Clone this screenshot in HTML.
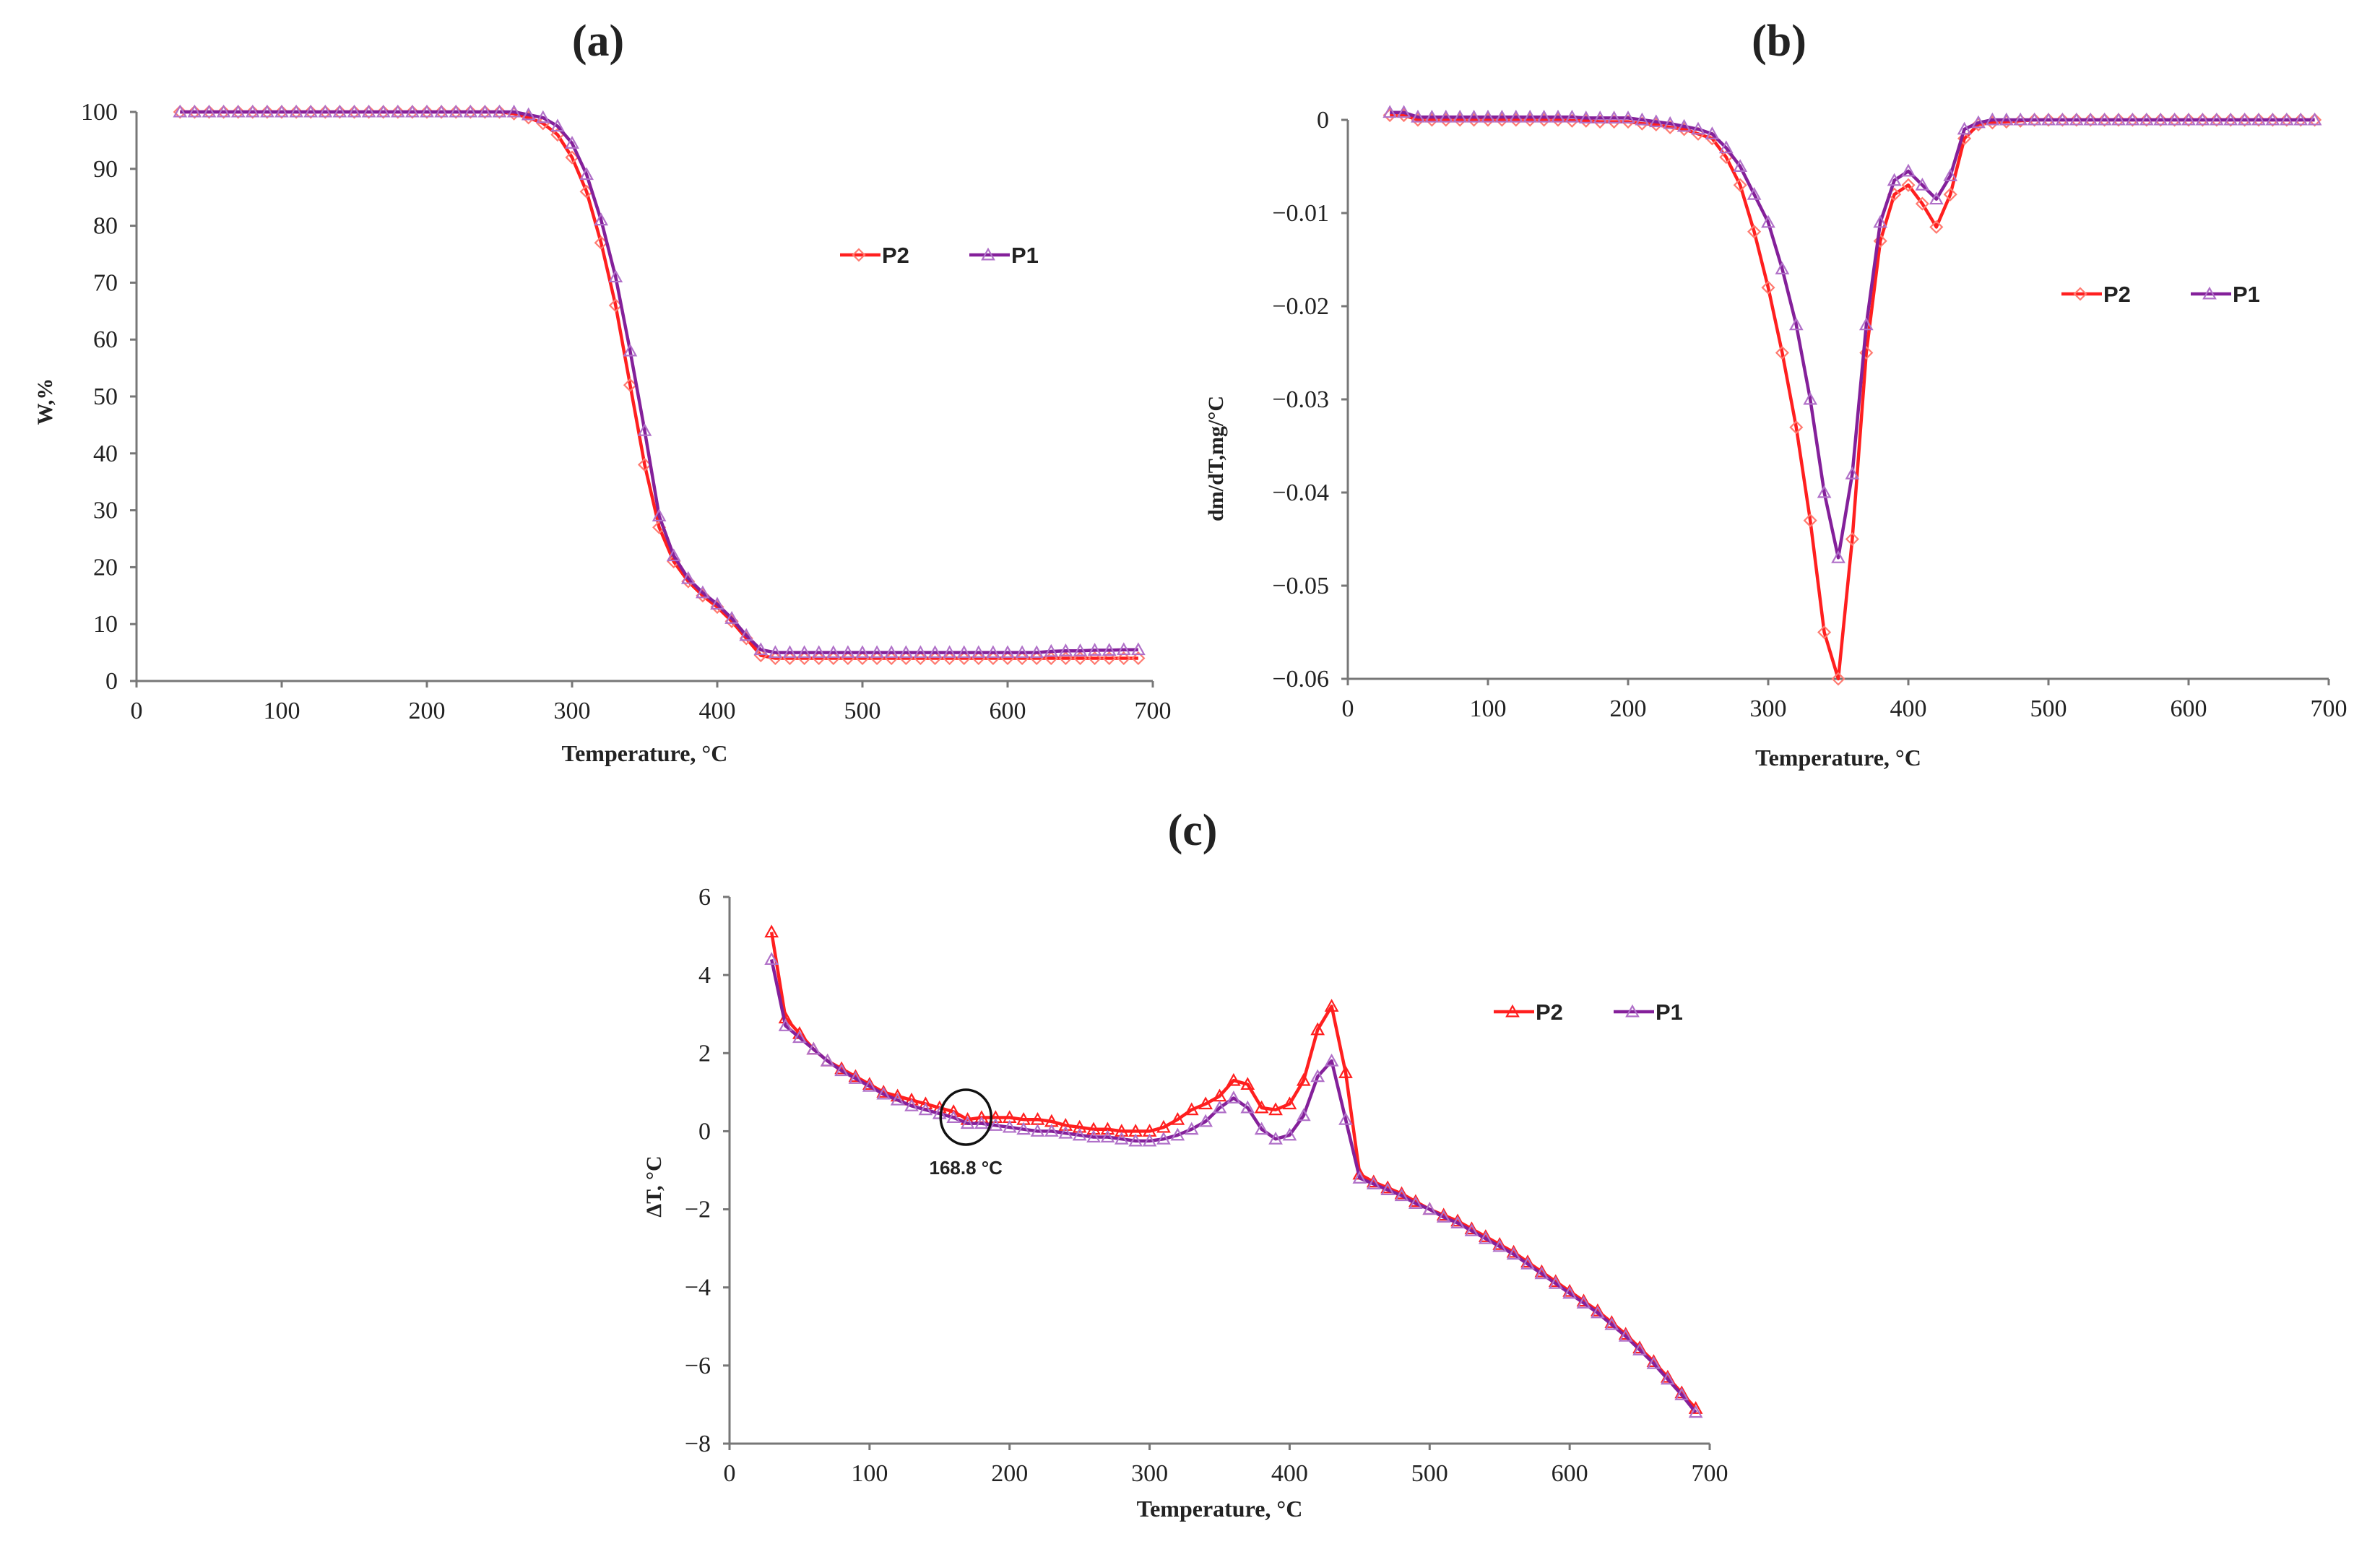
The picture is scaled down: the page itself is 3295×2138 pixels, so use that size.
<!DOCTYPE html>
<html><head><meta charset="utf-8"><style>
html,body{margin:0;padding:0;background:#fff;}
svg{display:block;}
text{font-family:"Liberation Serif",serif;fill:#222;}
</style></head><body>
<svg id="fig" width="3295" height="2138" viewBox="0 0 3295 2138" xmlns="http://www.w3.org/2000/svg"></svg>
<script>
const temps=[30,40,50,60,70,80,90,100,110,120,130,140,150,160,170,180,190,200,210,220,230,240,250,260,270,280,290,300,310,320,330,340,350,360,370,380,390,400,410,420,430,440,450,460,470,480,490,500,510,520,530,540,550,560,570,580,590,600,610,620,630,640,650,660,670,680,690];
const tgaP2=[100,100,100,100,100,100,100,100,100,100,100,100,100,100,100,100,100,100,100,100,100,100,100,99.7,99,98,96,92,86,77,66,52,38,27,21,17.5,15,13,10.5,7.5,4.5,4,4,4,4,4,4,4,4,4,4,4,4,4,4,4,4,4,4,4,4,4,4,4,4,4,4];
const tgaP1=[100,100,100,100,100,100,100,100,100,100,100,100,100,100,100,100,100,100,100,100,100,100,100,100,99.5,99,97.5,94.5,89,81,71,58,44,29,22,18,15.5,13.5,11,8,5.5,5,5,5,5,5,5,5,5,5,5,5,5,5,5,5,5,5,5,5,5.2,5.3,5.3,5.4,5.4,5.5,5.5];
const dtgP2=[0.0005,0.0005,0,0,0,0,0,0,0,0,0,0,0,-0.0001,-0.0001,-0.0002,-0.0002,-0.0002,-0.0004,-0.0005,-0.0008,-0.001,-0.0015,-0.002,-0.004,-0.007,-0.012,-0.018,-0.025,-0.033,-0.043,-0.055,-0.06,-0.045,-0.025,-0.013,-0.008,-0.007,-0.009,-0.0115,-0.008,-0.002,-0.0005,-0.0003,-0.0002,-0.0001,0,0,0,0,0,0,0,0,0,0,0,0,0,0,0,0,0,0,0,0,0];
const dtgP1=[0.0008,0.0008,0.0003,0.0003,0.0003,0.0003,0.0003,0.0003,0.0003,0.0003,0.0003,0.0003,0.0003,0.0003,0.0002,0.0002,0.0002,0.0002,0,-0.0002,-0.0004,-0.0007,-0.001,-0.0015,-0.003,-0.005,-0.008,-0.011,-0.016,-0.022,-0.03,-0.04,-0.047,-0.038,-0.022,-0.011,-0.0065,-0.0055,-0.007,-0.0085,-0.006,-0.001,-0.0003,0,0,0,0,0,0,0,0,0,0,0,0,0,0,0,0,0,0,0,0,0,0,0,0];
const dtaP2=[5.1,2.9,2.5,2.1,1.8,1.6,1.4,1.2,1.0,0.9,0.8,0.7,0.6,0.5,0.3,0.35,0.35,0.35,0.3,0.3,0.25,0.15,0.1,0.05,0.05,0,0,0,0.1,0.3,0.55,0.7,0.9,1.3,1.2,0.6,0.55,0.7,1.3,2.6,3.2,1.5,-1.1,-1.3,-1.45,-1.6,-1.8,-2.0,-2.15,-2.3,-2.5,-2.7,-2.9,-3.1,-3.35,-3.6,-3.85,-4.1,-4.35,-4.6,-4.9,-5.2,-5.55,-5.9,-6.3,-6.7,-7.1];
const dtaP1=[4.4,2.7,2.4,2.1,1.8,1.55,1.35,1.15,0.95,0.8,0.65,0.55,0.45,0.35,0.2,0.2,0.15,0.1,0.05,0,0,-0.05,-0.1,-0.15,-0.15,-0.2,-0.25,-0.25,-0.2,-0.1,0.05,0.25,0.6,0.85,0.6,0.05,-0.2,-0.1,0.4,1.4,1.8,0.3,-1.2,-1.35,-1.5,-1.65,-1.85,-2.0,-2.2,-2.35,-2.55,-2.75,-2.95,-3.15,-3.4,-3.65,-3.9,-4.15,-4.4,-4.65,-4.95,-5.25,-5.6,-5.95,-6.35,-6.75,-7.2];
const xTicks=[0,100,200,300,400,500,600,700];
const aTicks=[0,10,20,30,40,50,60,70,80,90,100];
const bTicks=[0,-0.01,-0.02,-0.03,-0.04,-0.05,-0.06];
const bTickLabels=["0","\u22120.01","\u22120.02","\u22120.03","\u22120.04","\u22120.05","\u22120.06"];
const cTicks=[6,4,2,0,-2,-4,-6,-8];
const cTickLabels=["6","4","2","0","\u22122","\u22124","\u22126","\u22128"];

const NS="http://www.w3.org/2000/svg";
const svg=document.getElementById('fig');
function mk(tag,attrs,parent){const e=document.createElementNS(NS,tag);for(const k in attrs)e.setAttribute(k,attrs[k]);(parent||svg).appendChild(e);return e;}
const RED="#ff1f1f",PUR="#84209a",RED_M="#ff7a70",PUR_M="#b070c8";

function chart(cfg){
  const g=mk('g',{});
  
  
  const sx=v=>cfg.x0+(v-0)/700*(cfg.x1-cfg.x0);
  const sy=v=>cfg.yb+(v-cfg.ymin)/(cfg.ymax-cfg.ymin)*(cfg.yt-cfg.yb);
  const t=mk('text',{x:cfg.titleX,y:cfg.titleY,'font-size':62,'font-weight':'bold','text-anchor':'middle'},g);
  t.textContent=cfg.title;
  
  
  const ax=mk('g',{},g);
  
  
  mk('line',{x1:cfg.x0,y1:cfg.yt,x2:cfg.x0,y2:cfg.yb,stroke:'#777','stroke-width':3},ax);
  mk('line',{x1:cfg.x0,y1:cfg.yb,x2:cfg.x1,y2:cfg.yb,stroke:'#777','stroke-width':3},ax);
  xTicks.forEach(v=>{
    mk('line',{x1:sx(v),y1:cfg.yb,x2:sx(v),y2:cfg.yb+9,stroke:'#777','stroke-width':3},ax);
    const tx=mk('text',{x:sx(v),y:cfg.yb+52,'font-size':34,'text-anchor':'middle'},ax);
    tx.textContent=v;
    
    
  });
  cfg.yTicks.forEach((v,i)=>{
    mk('line',{x1:cfg.x0-9,y1:sy(v),x2:cfg.x0,y2:sy(v),stroke:'#777','stroke-width':3},ax);
    const ty=mk('text',{x:cfg.x0-26,y:sy(v)+11,'font-size':34,'text-anchor':'end'},ax);
    ty.textContent=cfg.yLabels[i];
    
    
  });
  const xl=mk('text',{x:(cfg.x0+cfg.x1)/2,y:cfg.xlY,'font-size':32,'font-weight':'bold','text-anchor':'middle'},g);
  xl.textContent="Temperature, \u00B0C";
  
  
  const yl=mk('text',{x:cfg.ylX,y:cfg.ylY,'font-size':30,'font-weight':'bold','text-anchor':'middle',transform:`rotate(-90 ${cfg.ylX} ${cfg.ylY})`},g);
  yl.textContent=cfg.ylabel;
  
  
  cfg.series.forEach(s=>{
    const sg=mk('g',{},g);
    
    
    const pts=temps.map((tt,i)=>sx(tt).toFixed(1)+','+sy(s.vals[i]).toFixed(1)).join(' ');
    mk('polyline',{points:pts,fill:'none',stroke:s.color,'stroke-width':4.5,'stroke-linejoin':'round'},sg);
    temps.forEach((tt,i)=>{
      const m=marker(s.shape,sx(tt),sy(s.vals[i]),s.mcolor,sg);
      
      
    });
    const lg=mk('g',{},g);
    
    
    mk('line',{x1:s.lx,y1:cfg.legY,x2:s.lx+56,y2:cfg.legY,stroke:s.color,'stroke-width':4.5},lg);
    marker(s.shape,s.lx+26,cfg.legY,s.mcolor,lg);
    const lt=mk('text',{x:s.lx+58,y:cfg.legY+11,'font-size':31,'font-weight':'bold',style:'font-family:"Liberation Sans",sans-serif'},lg);
    lt.textContent=s.label;
  });
  return {g,sx,sy};
}
function marker(shape,x,y,c,p){
  const r=8;
  if(shape==='d') return mk('polygon',{points:`${x},${y-r} ${x+r},${y} ${x},${y+r} ${x-r},${y}`,fill:'none',stroke:c,'stroke-width':2.2},p);
  return mk('polygon',{points:`${x},${y-r} ${x+r},${y+r*0.8} ${x-r},${y+r*0.8}`,fill:'none',stroke:c,'stroke-width':2.2},p);
}

chart({name:'chart-a-tga',title:'(a)',titleX:828,titleY:77,x0:189,x1:1596,yt:155,yb:943,ymin:0,ymax:100,
  yTicks:aTicks,yLabels:aTicks.map(String),xlY:1054,ylX:72,ylY:556,ylabel:'W,%',legY:353,
  series:[{label:'P2',vals:tgaP2,color:RED,mcolor:RED_M,shape:'d',lx:1163},{label:'P1',vals:tgaP1,color:PUR,mcolor:PUR_M,shape:'t',lx:1342}]});
chart({name:'chart-b-dtg',title:'(b)',titleX:2463,titleY:77,x0:1866,x1:3224,yt:166,yb:940,ymin:-0.06,ymax:0,
  yTicks:bTicks,yLabels:bTickLabels,xlY:1060,ylX:1693,ylY:635,ylabel:'dm/dT,mg/\u00B0C',legY:407,
  series:[{label:'P2',vals:dtgP2,color:RED,mcolor:RED_M,shape:'d',lx:2854},{label:'P1',vals:dtgP1,color:PUR,mcolor:PUR_M,shape:'t',lx:3033}]});
const c=chart({name:'chart-c-dta',title:'(c)',titleX:1651,titleY:1170,x0:1010,x1:2367,yt:1242,yb:1999,ymin:-8,ymax:6,
  yTicks:cTicks,yLabels:cTickLabels,xlY:2100,ylX:915,ylY:1643,ylabel:'\u0394T, \u00B0C',legY:1401,
  series:[{label:'P2',vals:dtaP2,color:RED,mcolor:RED,shape:'t',lx:2068},{label:'P1',vals:dtaP1,color:PUR,mcolor:PUR_M,shape:'t',lx:2234}]});
const circ=mk('ellipse',{cx:c.sx(168.8),cy:1547,rx:35,ry:38,fill:'none',stroke:'#111','stroke-width':3.5},c.g);


const an=mk('text',{x:c.sx(168.8),y:1626,'font-size':26,'font-weight':'bold','text-anchor':'middle',style:'font-family:"Liberation Sans",sans-serif'},c.g);
an.textContent='168.8 \u00B0C';


</script>
</body></html>
